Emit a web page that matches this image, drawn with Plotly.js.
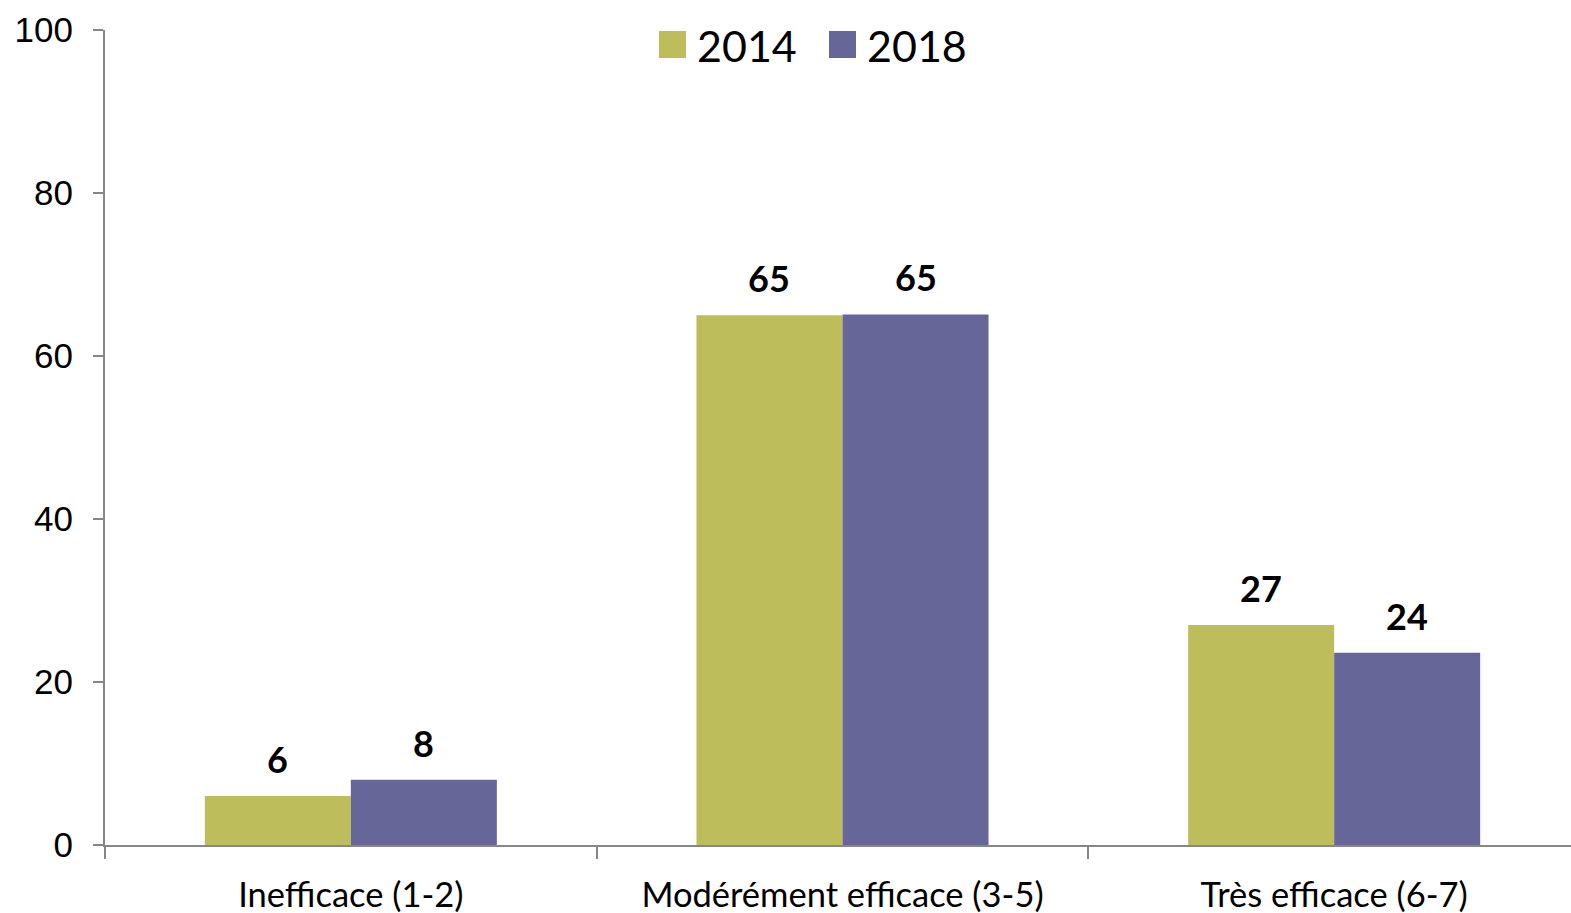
<!DOCTYPE html>
<html>
<head>
<meta charset="utf-8">
<script src="https://cdn.plot.ly/plotly-3.0.1.min.js"></script>
<style>
html,body{margin:0;padding:0;overflow:hidden;background:#fff;}
#chart{width:1580px;height:913px;}
</style>
</head>
<body>
<div id="chart"></div>
<script>
const categories = ["Inefficace (1-2)", "Modérément efficace (3-5)", "Très efficace (6-7)"];
const seriesNames = ["2014", "2018"];
const values2014 = [6, 65, 27];
const values2018 = [8, 65.1, 23.6];
const labels2014 = ["6", "65", "27"];
const labels2018 = ["8", "65", "24"];
const yTicks = [0, 20, 40, 60, 80, 100];

const colors = ["#BEBD5C", "#666699"];
const BARGAP = 0.406;
const barW = (1 - BARGAP) / 2;

// plot-area geometry (pixels) used to place the hand-built legend
const M = {l: 105, r: 0, t: 30, b: 68};
const W = 1580, H = 913;
const PW = W - M.l - M.r, PH = H - M.t - M.b;
const px = v => (v - M.l) / PW;
const py = v => (H - M.b - v) / PH;

const traces = [
  {type: "bar", name: seriesNames[0], x: categories, y: values2014, marker: {color: colors[0]}, hoverinfo: "skip"},
  {type: "bar", name: seriesNames[1], x: categories, y: values2018, marker: {color: colors[1]}, hoverinfo: "skip"}
];

const annotations = [];
[[values2014, labels2014, -1], [values2018, labels2018, 1]].forEach(([vals, labs, side]) => {
  vals.forEach((v, i) => {
    annotations.push({
      x: i + side * barW / 2, y: v, xref: "x", yref: "y",
      text: labs[i], showarrow: false, yanchor: "bottom", yshift: 13,
      font: {family: "Lato", size: 36, color: "#000", weight: "bold"}
    });
  });
});

// legend: square + label for each series
const legendSquares = [659, 829];
const shapes = [];
seriesNames.forEach((name, k) => {
  const x0 = legendSquares[k];
  shapes.push({
    type: "rect", xref: "paper", yref: "paper",
    x0: px(x0), x1: px(x0 + 27), y0: py(58), y1: py(31),
    fillcolor: colors[k], line: {width: 0}
  });
  annotations.push({
    xref: "paper", yref: "paper", x: px(x0 + 36), y: py(45),
    xanchor: "left", yanchor: "middle", showarrow: false, text: name,
    font: {family: "Lato", size: 43, color: "#000"}
  });
});

const layout = {
  width: W, height: H,
  margin: M,
  paper_bgcolor: "#fff", plot_bgcolor: "#fff",
  barmode: "group", bargap: BARGAP, bargroupgap: 0,
  showlegend: false,
  xaxis: {
    type: "category", range: [-0.5, 2.5],
    showline: true, linecolor: "#868686", linewidth: 2,
    ticks: "outside", tickson: "boundaries", ticklen: 12, tickcolor: "#868686", tickwidth: 2,
    showgrid: false, zeroline: false,
    tickfont: {family: "Lato", size: 34.5, color: "#000"},
    ticklabelstandoff: 19
  },
  yaxis: {
    range: [0, 100], tickvals: yTicks, ticktext: yTicks.map(String),
    showline: true, linecolor: "#868686", linewidth: 2,
    ticks: "outside", ticklen: 10, tickcolor: "#868686", tickwidth: 2,
    showgrid: false, zeroline: false,
    tickfont: {family: "Liberation Sans", size: 35, color: "#000"},
    ticklabelstandoff: 13
  },
  shapes: shapes,
  annotations: annotations
};

Plotly.newPlot("chart", traces, layout, {staticPlot: true, displayModeBar: false});
</script>
</body>
</html>
